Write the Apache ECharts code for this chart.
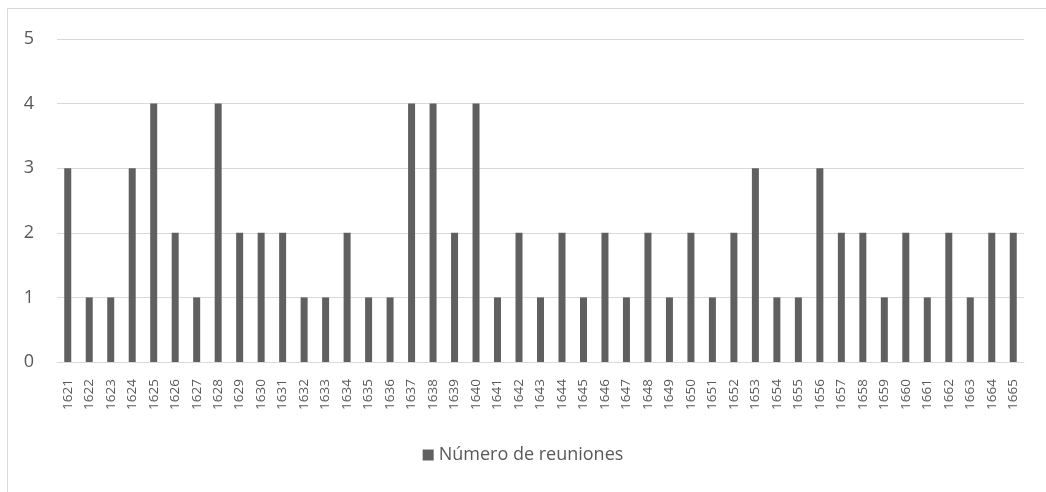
<!DOCTYPE html>
<html><head><meta charset="utf-8">
<script src="https://cdn.jsdelivr.net/npm/echarts@6/dist/echarts.min.js"></script>
<style>html,body{margin:0;padding:0;background:#fff}#c{width:1046px;height:492px}</style>
</head><body><div id="c"></div>
<script>
const categories = ['1621','1622','1623','1624','1625','1626','1627','1628','1629','1630','1631','1632','1633','1634','1635','1636','1637','1638','1639','1640','1641','1642','1643','1644','1645','1646','1647','1648','1649','1650','1651','1652','1653','1654','1655','1656','1657','1658','1659','1660','1661','1662','1663','1664','1665'];
const reuniones = [3,1,1,3,4,2,1,4,2,2,2,1,1,2,1,1,4,4,2,4,1,2,1,2,1,2,1,2,1,2,1,2,3,1,1,3,2,2,1,2,1,2,1,2,2];
const seriesName = 'Número de reuniones';

const chart = echarts.init(document.getElementById('c'), null, {renderer:'canvas'});
const font = '"Open Sans", "Noto Sans", sans-serif';
chart.setOption({
  animation:false,
  graphic:[{type:'rect', shape:{x:7.5,y:8.5,width:1200,height:600}, style:{fill:'none', stroke:'#d9d9d9', lineWidth:1}, silent:true}],
  grid:{left:57, right:22, top:39, bottom:130, containLabel:false},
  legend:{top:441, left:'center', itemWidth:11, itemHeight:11, itemGap:6, icon:'rect',
    textStyle:{color:'#595959', fontSize:18, fontFamily:font}, data:[seriesName]},
  xAxis:{type:'category', data:categories,
    axisLine:{lineStyle:{color:'#d9d9d9', width:1}}, axisTick:{show:false},
    axisLabel:{rotate:90, color:'#595959', fontSize:13.5, fontFamily:font, interval:0, margin:17}},
  yAxis:{type:'value', min:0, max:5, interval:1,
    axisLine:{show:false}, axisTick:{show:false},
    splitLine:{lineStyle:{color:'#d9d9d9', width:1}},
    axisLabel:{color:'#595959', fontSize:18, fontFamily:font, margin:23}},
  series:[{name:seriesName, type:'bar', data:reuniones, barWidth:7,
    itemStyle:{color:'#606060'}}]
});
</script></body></html>
